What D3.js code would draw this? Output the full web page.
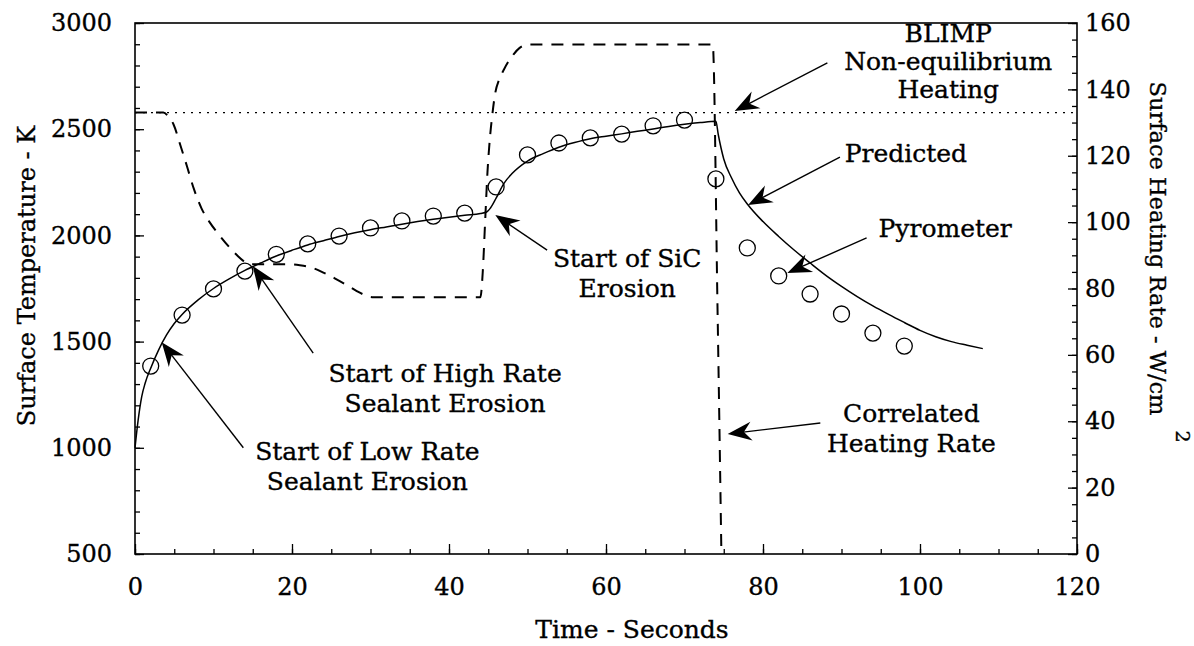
<!DOCTYPE html>
<html>
<head>
<meta charset="utf-8">
<script src="https://cdn.jsdelivr.net/npm/d3@7/dist/d3.min.js"></script>
<style>
  body { margin: 0; background: #fff; }
  svg { display: block; }
  text { font-family: "DejaVu Serif", "Liberation Serif", serif; fill: #000; stroke: #000; stroke-width: 0.35px; }
</style>
</head>
<body>
<svg id="chart" width="1194" height="646"></svg>
<script>
// ---- data ----
const timeTicks = [0, 20, 40, 60, 80, 100, 120];
const tempTicks = [500, 1000, 1500, 2000, 2500, 3000];
const rateTicks = [0, 20, 40, 60, 80, 100, 120, 140, 160];

// predicted surface temperature (K)
const predictedTime = [0, 0.4, 0.85, 1.3, 2, 3, 4, 5, 6, 8, 10, 12, 14, 16, 18, 20, 22, 24, 26, 28, 30,
  32, 34, 36, 38, 40, 42, 44, 44.8, 45.3, 46, 47, 48, 50, 52, 54, 56, 58, 60, 62, 64, 66, 68, 70, 72, 74,
  74.3, 75, 76, 77, 78, 80, 82, 84, 86, 88, 90, 92, 94, 96, 98, 100, 102, 104, 106, 108];
const predictedTemp = [1000, 1130, 1240, 1305, 1375, 1460, 1530, 1585, 1628, 1695, 1750, 1795, 1835, 1870, 1903, 1930, 1955, 1975, 1995, 2012, 2027,
  2040, 2053, 2065, 2076, 2086, 2095, 2103, 2110, 2130, 2175, 2245, 2290, 2350, 2385, 2415, 2437, 2455, 2467, 2478, 2490, 2501, 2513, 2523, 2531, 2537,
  2475, 2360, 2270, 2200, 2148, 2065, 1995, 1930, 1870, 1812, 1760, 1712, 1668, 1628, 1590, 1553, 1523, 1500, 1483, 1467];

// pyrometer measurements (K)
const pyroTime = [2, 6, 10, 14, 18, 22, 26, 30, 34, 38, 42, 46, 50, 54, 58, 62, 66, 70, 74, 78, 82, 86, 90, 94, 98];
const pyroTemp = [1385, 1625, 1748, 1832, 1911, 1960, 1997, 2035, 2068, 2091, 2105, 2228, 2379, 2435, 2459, 2477, 2516, 2543, 2266, 1941, 1809, 1724, 1630, 1540, 1479];

// correlated heating rate (W/cm^2)
const rateTime = [0, 3.6, 4.2, 4.9, 5.8, 6.6, 7.5, 8.5, 9.5, 10.6, 12, 13, 14, 14.7, 19.5, 21, 22.5, 24, 25.5, 27, 28.2, 29.3, 30.2,
  44, 44.3, 44.6, 44.9, 45.2, 45.5, 45.9, 46.4, 47, 47.6, 48.2, 49, 50, 73.6, 74.2, 74.7];
const rateValue = [133, 133, 132, 129.5, 123, 117, 110, 104, 100, 96.5, 92.5, 90, 88, 87.3, 87.3, 87, 86.3, 84.8, 83, 81, 79.3, 78, 77.4,
  77.4, 85, 100, 115, 125, 132, 139, 143, 146, 148.5, 150.5, 152.5, 153.5, 153.5, 75, 0];

// BLIMP non-equilibrium heating level (W/cm^2)
const blimpRate = 133;

// annotation labels: text anchor and arrow, in (time, temperature)
const notes = [
  { lines: ["Start of Low Rate", "Sealant Erosion"], at: [29.6, 943], from: [13.8, 1000], to: [3.4, 1497] },
  { lines: ["Start of High Rate", "Sealant Erosion"], at: [39.5, 1310], from: [22.7, 1446], to: [15.0, 1856] },
  { lines: ["Start of SiC", "Erosion"], at: [62.7, 1851], from: [52.5, 1931], to: [45.9, 2096] },
  { lines: ["BLIMP", "Non-equilibrium", "Heating"], at: [103.6, 2910], from: [88.2, 2812], to: [76.4, 2586], gap: 28 },
  { lines: ["Predicted"], at: [98.2, 2346], from: [89.8, 2369], to: [78.1, 2143] },
  { lines: ["Pyrometer"], at: [103.2, 1992], from: [93.2, 1988], to: [83.1, 1823] },
  { lines: ["Correlated", "Heating Rate"], at: [98.9, 1121], from: [87.3, 1117], to: [75.5, 1065] }
];

// ---- layout ----
const svg = d3.select("#chart");
const plotLeft = 135, plotRight = 1077, plotTop = 23, plotBottom = 554;

const x = d3.scaleLinear().domain([0, 120]).range([plotLeft, plotRight]);
const yT = d3.scaleLinear().domain([500, 3000]).range([plotBottom, plotTop]);
const yQ = d3.scaleLinear().domain([0, 160]).range([plotBottom, plotTop]);

// minor ticks
svg.append("g").attr("transform", `translate(0,${plotBottom})`)
  .call(d3.axisBottom(x).tickValues(d3.range(0, 121, 5)).tickSize(-5).tickFormat(""));
svg.append("g").attr("transform", `translate(${plotLeft},0)`)
  .call(d3.axisLeft(yT).tickValues(d3.range(500, 3001, 100)).tickSize(-5).tickFormat(""));
svg.append("g").attr("transform", `translate(${plotRight},0)`)
  .call(d3.axisRight(yQ).tickValues(d3.range(0, 161, 5)).tickSize(-5).tickFormat(""));

// major ticks and labels
svg.append("g").attr("transform", `translate(0,${plotBottom})`)
  .call(d3.axisBottom(x).tickValues(timeTicks).tickSize(-10).tickPadding(24).tickFormat(d3.format("d")));
svg.append("g").attr("transform", `translate(${plotLeft},0)`)
  .call(d3.axisLeft(yT).tickValues(tempTicks).tickSize(-9).tickPadding(23).tickFormat(d3.format("d")));
svg.append("g").attr("transform", `translate(${plotRight},0)`)
  .call(d3.axisRight(yQ).tickValues(rateTicks).tickSize(-9).tickPadding(8).tickFormat(d3.format("d")));

svg.selectAll(".domain").remove();
svg.selectAll(".tick line").attr("stroke", "#000").attr("stroke-width", 1.3);
svg.selectAll(".tick text").attr("font-size", 24).attr("font-family", "DejaVu Serif").attr("fill", "#000");

// frame
svg.append("rect")
  .attr("x", plotLeft).attr("y", plotTop)
  .attr("width", plotRight - plotLeft).attr("height", plotBottom - plotTop)
  .attr("fill", "none").attr("stroke", "#000").attr("stroke-width", 1.6);

// axis titles
svg.append("text")
  .attr("transform", "translate(35,276) rotate(-90)")
  .attr("text-anchor", "middle").attr("font-size", 24)
  .text("Surface Temperature - K");

svg.append("text")
  .attr("x", 632).attr("y", 638)
  .attr("text-anchor", "middle").attr("font-size", 25)
  .text("Time - Seconds");

const rt = svg.append("text")
  .attr("transform", "translate(1150,262) rotate(90)")
  .attr("text-anchor", "middle").attr("font-size", 22.5);
rt.append("tspan").text("Surface Heating Rate - W/cm");
rt.append("tspan").attr("dx", 15).attr("dy", -26).attr("font-size", 19).text("2");

// BLIMP level (dotted)
svg.append("line")
  .attr("x1", x(0)).attr("x2", x(120))
  .attr("y1", yQ(blimpRate)).attr("y2", yQ(blimpRate))
  .attr("stroke", "#000").attr("stroke-width", 1.3)
  .attr("stroke-dasharray", "2,6");

// correlated heating rate (dashed)
const rateLine = d3.line()
  .x(d => x(d[0])).y(d => yQ(d[1]))
  .curve(d3.curveMonotoneX);
svg.append("path")
  .datum(rateTime.map((t, i) => [t, rateValue[i]]))
  .attr("d", rateLine)
  .attr("fill", "none").attr("stroke", "#000").attr("stroke-width", 2)
  .attr("stroke-dasharray", "12,9");

// predicted temperature (solid)
const tempLine = d3.line()
  .x(d => x(d[0])).y(d => yT(d[1]))
  .curve(d3.curveMonotoneX);
svg.append("path")
  .datum(predictedTime.map((t, i) => [t, predictedTemp[i]]))
  .attr("d", tempLine)
  .attr("fill", "none").attr("stroke", "#000").attr("stroke-width", 1.5);

// pyrometer circles
svg.append("g").selectAll("circle")
  .data(pyroTime.map((t, i) => [t, pyroTemp[i]]))
  .join("circle")
  .attr("cx", d => x(d[0])).attr("cy", d => yT(d[1]))
  .attr("r", 8)
  .attr("fill", "none").attr("stroke", "#000").attr("stroke-width", 1.3);

// annotations with arrows
const headLen = 24, headHalf = 9.5;
const ann = svg.append("g");
notes.forEach(n => {
  const gap = n.gap || 30;
  const tx = x(n.at[0]), ty = yT(n.at[1]);
  const t = ann.append("text")
    .attr("text-anchor", "middle").attr("font-size", 25);
  n.lines.forEach((ln, i) => {
    t.append("tspan").attr("x", tx).attr("y", ty + i * gap).text(ln);
  });
  const x0 = x(n.from[0]), y0 = yT(n.from[1]);
  const x1 = x(n.to[0]), y1 = yT(n.to[1]);
  const ang = Math.atan2(y1 - y0, x1 - x0);
  const back = headLen * 0.65;
  ann.append("line")
    .attr("x1", x0).attr("y1", y0)
    .attr("x2", x1 - back * Math.cos(ang)).attr("y2", y1 - back * Math.sin(ang))
    .attr("stroke", "#000").attr("stroke-width", 1.4);
  ann.append("path")
    .attr("d", `M0,0 L${-headLen},${-headHalf} L${-headLen * 0.68},0 L${-headLen},${headHalf} Z`)
    .attr("transform", `translate(${x1},${y1}) rotate(${ang * 180 / Math.PI})`)
    .attr("fill", "#000");
});
</script>
</body>
</html>
